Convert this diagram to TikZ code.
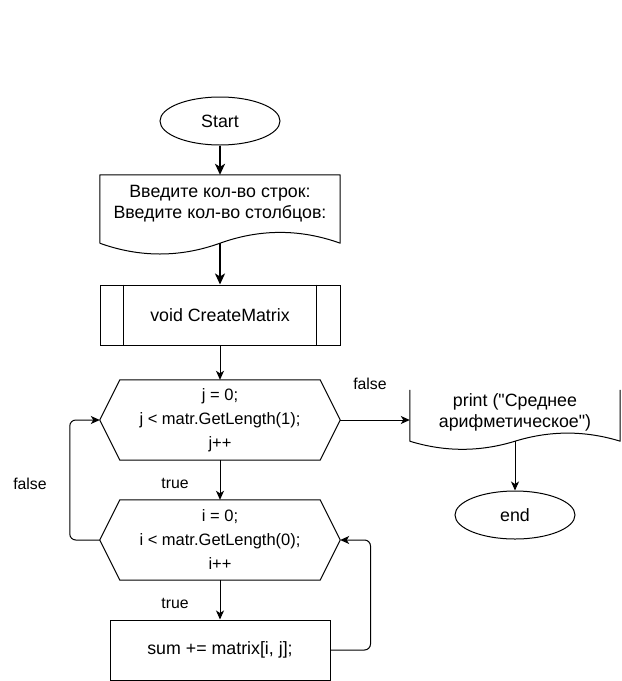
\documentclass[tikz,border=0pt]{standalone}
\usepackage{fontspec}
\setmainfont{Liberation Sans}
\usetikzlibrary{arrows.meta,calc,shapes.geometric}

\tikzset{
  base/.style={font=\fontsize{17.8}{21}\selectfont, align=center, inner sep=0pt},
  term/.style={base, ellipse, draw, line width=1pt, minimum width=120pt, minimum height=48pt},
  box/.style={base, minimum width=240pt, minimum height=#1},
  hextext/.style={box=80pt, font=\fontsize{16.5}{24}\selectfont},
  lbl/.style={font=\fontsize{15.8}{18}\selectfont, inner sep=0pt},
  outline/.style={line width=1pt, line join=round},
  flow/.style={line width=1pt, -{Stealth[length=9pt,width=8pt,inset=2.5pt]}},
  boldflow/.style={line width=2pt, -{Stealth[length=11pt,width=10pt,inset=3pt]}}
}

\begin{document}
\begin{tikzpicture}[x=1pt,y=-1pt]
		%%%%% START %%%%%
		\useasboundingbox (0,0) rectangle (622,681);
		
		\node[term] (start) at (220,121) {Start};
		
		% input document
		\node[box=68pt] (inp) at (220,209) {};
		\node[base] (inp-t) at (220,204) {Введите кол-во строк:\\Введите кол-во столбцов:};
		\draw[outline] (inp.south west) -- (inp.north west) -- (inp.north east) -- (inp.south east)
			.. controls +(-40,-14.4) and +(40,-14.4) .. (inp.south)
			.. controls +(-40,14.4) and +(40,14.4) .. (inp.south west);
		
		% subroutine
		\node[box=60pt, draw, line width=1pt] (cm) at (220,315) {void CreateMatrix};
		\draw[outline] ($(cm.north west)+(24,0)$) -- ($(cm.south west)+(24,0)$);
		\draw[outline] ($(cm.north east)+(-24,0)$) -- ($(cm.south east)+(-24,0)$);
		
		% loops
		\node[hextext] (h1) at (220,420) {j = 0;\\j < matr.GetLength(1);\\j++};
		\draw[outline] (h1.west) -- ($(h1.north west)+(20,0)$) -- ($(h1.north east)+(-20,0)$)
			-- (h1.east) -- ($(h1.south east)+(-20,0)$) -- ($(h1.south west)+(20,0)$) -- cycle;
		
		\node[hextext] (h2) at (220,540) {i = 0;\\i < matr.GetLength(0);\\i++};
		\draw[outline] (h2.west) -- ($(h2.north west)+(20,0)$) -- ($(h2.north east)+(-20,0)$)
			-- (h2.east) -- ($(h2.south east)+(-20,0)$) -- ($(h2.south west)+(20,0)$) -- cycle;
		
		\node[base, draw, line width=1pt, minimum width=220pt, minimum height=60pt] (sum) at (220,650) {sum += matrix[i, j];};
		
		% output document
		\node[base, minimum width=210pt, minimum height=51pt] (prt) at (515,415.5) {};
		\node[base] (prt-t) at (515,412.5) {print (\textquotedbl Среднее\\арифметическое\textquotedbl)};
		\draw[outline] (prt.north west) -- (prt.south west)
			.. controls +(35,10.8) and +(-35,10.8) .. (prt.south)
			.. controls +(35,-10.8) and +(-35,-10.8) .. (prt.south east) -- (prt.north east);
		
		\node[term] (stop) at (515,515) {end};
		
		% connectors
		\draw[boldflow] (start) -- (inp);
		\draw[boldflow] (inp) -- (cm);
		\draw[flow] (cm) -- (h1);
		\draw[flow] (h1) -- node[lbl, pos=0.6, xshift=-45pt] (t1) {true} (h2);
		\draw[flow] (h2) -- node[lbl, pos=0.6, xshift=-45pt] (t2) {true} (sum);
		\draw[flow, rounded corners=6pt] (h2.west) -- ++(-30,0) |- (h1.west);
		\draw[flow, rounded corners=6pt] (sum.east) -- ++(40,0) |- (h2.east);
		\draw[flow] (h1.east) -- (h1.east -| prt.west);
		\draw[flow] (prt.south) -- (stop);
		
		\node[lbl] (f1) at (30,484) {false};
		\node[lbl] (f2) at (370,384) {false};
		
		%%%%% END %%%%%
	\end{tikzpicture}
\end{document}
